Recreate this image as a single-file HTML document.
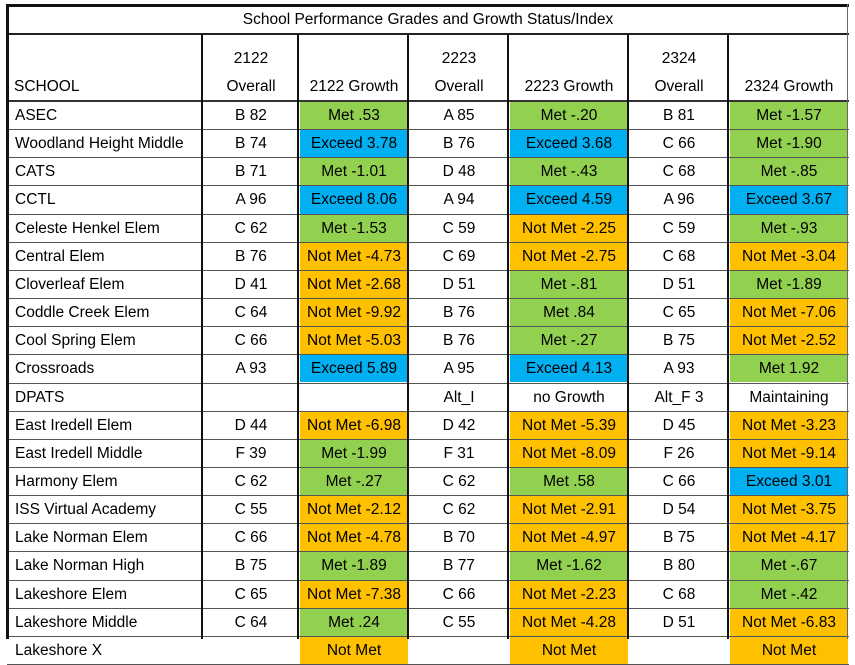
<!DOCTYPE html>
<html><head><meta charset="utf-8"><style>
body{margin:0;width:855px;height:639px;overflow:hidden;background:#fff;font-family:"Liberation Sans",sans-serif;}
#wrap{position:absolute;left:0;top:0;width:855px;height:639px;}
.c{position:absolute;box-sizing:border-box;font-size:15.5px;color:#000;white-space:nowrap;overflow:hidden;line-height:28px;}
.vl{position:absolute;background:#111;width:2px;}
.hl{position:absolute;background:#555;height:1px;}
</style></head><body>
<div id="wrap"></div>
<script>
const schools=["ASEC","Woodland Height Middle","CATS","CCTL","Celeste Henkel Elem","Central Elem","Cloverleaf Elem","Coddle Creek Elem","Cool Spring Elem","Crossroads","DPATS","East Iredell Elem","East Iredell Middle","Harmony Elem","ISS Virtual Academy","Lake Norman Elem","Lake Norman High","Lakeshore Elem","Lakeshore Middle","Lakeshore X"];
const o2122=["B 82","B 74","B 71","A 96","C 62","B 76","D 41","C 64","C 66","A 93","","D 44","F 39","C 62","C 55","C 66","B 75","C 65","C 64",""];
const g2122=["Met .53","Exceed 3.78","Met -1.01","Exceed 8.06","Met -1.53","Not Met -4.73","Not Met -2.68","Not Met -9.92","Not Met -5.03","Exceed 5.89","","Not Met -6.98","Met -1.99","Met -.27","Not Met -2.12","Not Met -4.78","Met -1.89","Not Met -7.38","Met .24","Not Met"];
const o2223=["A 85","B 76","D 48","A 94","C 59","C 69","D 51","B 76","B 76","A 95","Alt_I","D 42","F 31","C 62","C 62","B 70","B 77","C 66","C 55",""];
const g2223=["Met -.20","Exceed 3.68","Met -.43","Exceed 4.59","Not Met -2.25","Not Met -2.75","Met -.81","Met .84","Met -.27","Exceed 4.13","no Growth","Not Met -5.39","Not Met -8.09","Met .58","Not Met -2.91","Not Met -4.97","Met -1.62","Not Met -2.23","Not Met -4.28","Not Met"];
const o2324=["B 81","C 66","C 68","A 96","C 59","C 68","D 51","C  65","B 75","A 93","Alt_F 3","D 45","F 26","C 66","D 54","B 75","B 80","C 68","D 51",""];
const g2324=["Met -1.57","Met -1.90","Met -.85","Exceed 3.67","Met -.93","Not Met -3.04","Met -1.89","Not Met -7.06","Not Met -2.52","Met 1.92","Maintaining","Not Met -3.23","Not Met -9.14","Exceed 3.01","Not Met -3.75","Not Met -4.17","Met -.67","Met -.42","Not Met -6.83","Not Met"];
const W=document.getElementById('wrap');
const cols=[8,202,298,408,508,628,728,848];
const top0=101,rh=28.15;
function color(s){if(s.startsWith("Exceed"))return"#00b0f0";if(s.startsWith("Not Met"))return"#ffc000";if(s.startsWith("Met"))return"#92d050";return"";}
function cell(x,y,w,h,txt,name,align,bg,extra){
 const d=document.createElement('div');d.className='c';
 
 
 d.style.left=x+'px';d.style.top=y+'px';d.style.width=w+'px';d.style.height=h+'px';
 d.style.textAlign=align;if(bg)d.style.background=bg;
 if(align==='left')d.style.paddingLeft='4px';
 if(extra)d.style.cssText+=extra;
 d.textContent=txt;W.appendChild(d);return d;}
// title
cell(8,4,840,30,"School Performance Grades  and Growth Status/Index","table-title","center","","line-height:32px;");
const heads=["SCHOOL","2122\nOverall","2122 Growth","2223\nOverall","2223 Growth","2324\nOverall","2324 Growth"];
const hn=["school-header","2122-overall-header","2122-growth-header","2223-overall-header","2223-growth-header","2324-overall-header","2324-growth-header"];
for(let i=0;i<7;i++){
 const d=cell(cols[i]+(i?2:2),34,cols[i+1]-cols[i]-2,67,"",hn[i],i==0?"left":"center","","line-height:28px;white-space:pre;display:flex;flex-direction:column;justify-content:flex-end;");
 d.textContent=heads[i];
 if(i>0)d.style.alignItems='center';
}
const data=[schools,o2122,g2122,o2223,g2223,o2324,g2324];
const cn=["school-name","overall-2122","growth-2122","overall-2223","growth-2223","overall-2324","growth-2324"];
for(let r=0;r<schools.length;r++){
 const y=top0+r*rh;
 for(let c=0;c<7;c++){
  const t=data[c][r];
  const bg=(c==2||c==4||c==6)?color(t):"";
  const d=cell(cols[c]+2,y+1,cols[c+1]-cols[c]-2,rh-1,t,cn[c],c==0?"left":"center",bg);
  if(c==0)d.style.paddingLeft='5px';
 }
}
// horizontal lines
function hl(y,name,col,h){const d=document.createElement('div');d.className='hl';
 
 
 d.style.left='7px';d.style.width='842px';d.style.top=y+'px';if(col)d.style.background=col;if(h)d.style.height=h+'px';W.appendChild(d);}
hl(4,"table-top-border","#111",3);hl(33,"title-bottom-line","#222",2);hl(100,"header-bottom-line","#333",2);
for(let r=1;r<=schools.length;r++)hl(Math.round(top0+r*rh),"row-line");
function vl(x,y0,name,w,col){const d=document.createElement('div');d.className='vl';
 
 
 d.style.left=x+'px';d.style.top=y0+'px';d.style.height=(639-y0)+'px';if(w)d.style.width=w+'px';if(col)d.style.background=col;W.appendChild(d);}
vl(6,4,"left-border",3);vl(847,4,"right-border",1,"#666");
for(let i=1;i<7;i++)vl(cols[i]-1,34,"column-line");
</script>
</body></html>
